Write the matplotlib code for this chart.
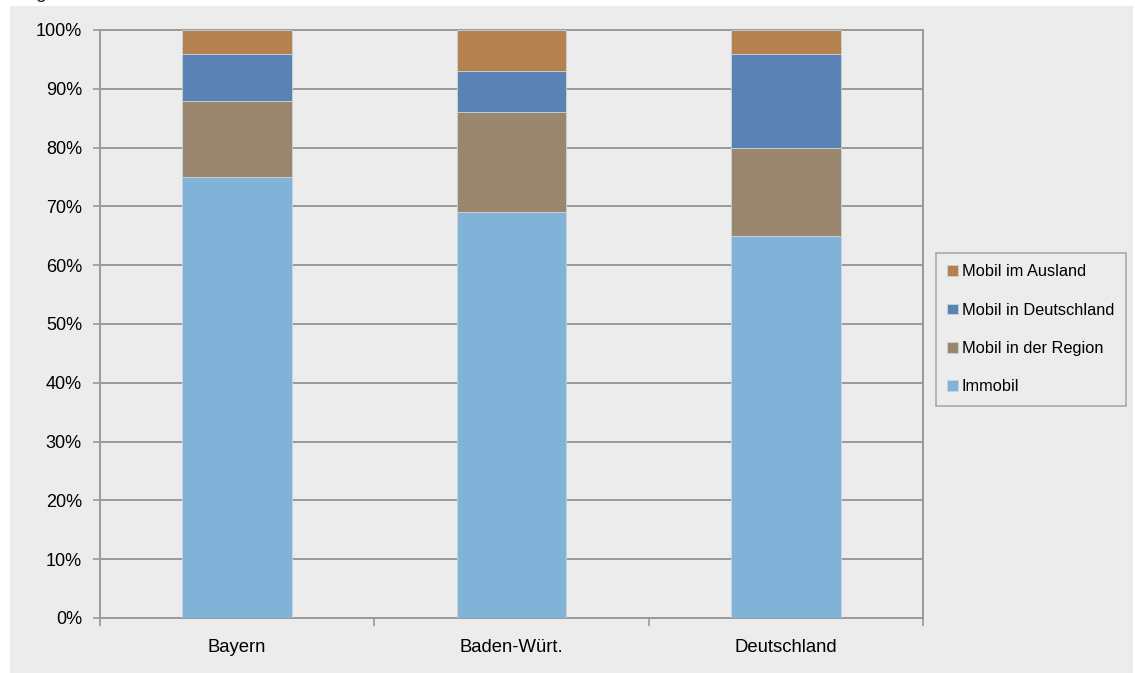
import matplotlib
matplotlib.use("Agg")
import matplotlib.pyplot as plt
from matplotlib.patches import Rectangle
import numpy as np

plt.rcParams["font.family"] = ["Liberation Sans", "DejaVu Sans"]

# data (percent)
regions = ["Bayern", "Baden-Würt.", "Deutschland"]
immobil = [75, 69, 65]
mobil_region = [13, 17, 15]
mobil_deutschland = [8, 7, 16]
mobil_ausland = [4, 7, 4]

series = [
    ("Immobil", immobil, "#80B3D7"),
    ("Mobil in der Region", mobil_region, "#9A876D"),
    ("Mobil in Deutschland", mobil_deutschland, "#5A82B5"),
    ("Mobil im Ausland", mobil_ausland, "#B5814F"),
]

grey_bg = "#ECECEC"
line_col = "#999999"

fig = plt.figure(figsize=(11.35, 6.73), dpi=100)
fig.patch.set_facecolor("white")
fig.patches.append(Rectangle((10 / 1135, 0), 1 - 12 / 1135, 1 - 6 / 673,
                             transform=fig.transFigure, facecolor=grey_bg,
                             edgecolor="none", zorder=-10))
# title line sits mostly above the picture edge, as in the original crop
fig.text(12 / 1135, 1 + 2 / 673, "Angaben in Prozent", fontsize=14,
         va="baseline", ha="left", color="#222222")

ax = fig.add_axes([100 / 1135, 1 - 618 / 673, 823 / 1135, 588 / 673])
ax.set_facecolor(grey_bg)

x = np.arange(len(regions))
bottom = np.zeros(len(regions))
handles = []
for name, vals, col in series:
    h = ax.bar(x, vals, width=0.4, bottom=bottom, color=col,
               edgecolor="#C8D4DE", linewidth=0.6, label=name, zorder=3)
    handles.append(h)
    bottom += np.array(vals)

ax.set_xlim(-0.5, 2.5)
ax.set_ylim(0, 100)
ax.set_yticks(np.arange(0, 101, 10))
ax.set_yticklabels([f"{v}%" for v in range(0, 101, 10)])
ax.yaxis.grid(True, color=line_col, linewidth=1.4, zorder=0)
ax.set_axisbelow(True)

ax.set_xticks(x)
ax.set_xticklabels(regions)
ax.set_xticks([-0.5, 0.5, 1.5, 2.5], minor=True)
ax.tick_params(axis="x", which="major", length=0, pad=15, labelsize=13.3)
ax.tick_params(axis="x", which="minor", length=6, width=1.2, color=line_col)
ax.tick_params(axis="y", length=5, width=1.2, color=line_col, pad=8,
               labelsize=13)

for side in ["left", "bottom", "right", "top"]:
    ax.spines[side].set_color(line_col)
    ax.spines[side].set_linewidth(1.4)

leg = fig.legend(handles[::-1], [s[0] for s in series][::-1],
                 loc="upper left",
                 bbox_to_anchor=(936 / 1135, 1 - 253 / 673),
                 frameon=True, fancybox=False, fontsize=11.8,
                 handlelength=0.62, handleheight=0.62, handletextpad=0.25,
                 labelspacing=1.42, borderpad=0.7, borderaxespad=0)
leg.get_frame().set_edgecolor(line_col)
leg.get_frame().set_facecolor(grey_bg)
leg.get_frame().set_linewidth(1.2)

fig.savefig("out.png", dpi=100)
